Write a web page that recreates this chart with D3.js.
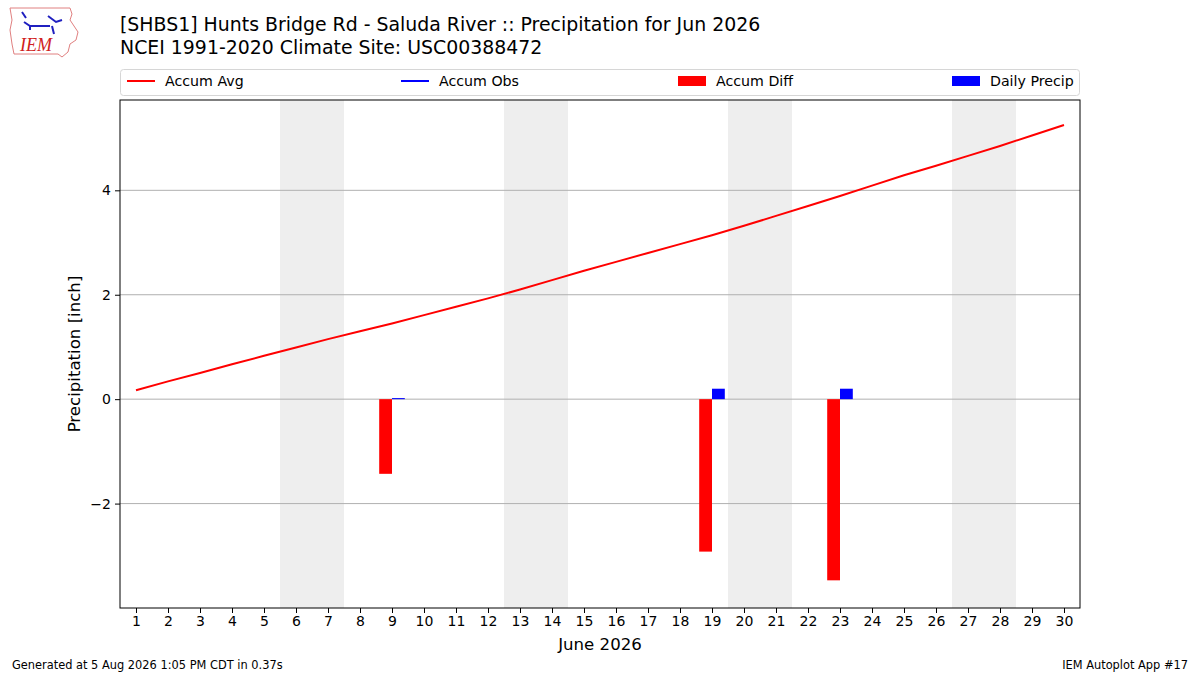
<!DOCTYPE html>
<html>
<head>
<meta charset="utf-8">
<script src="https://cdn.jsdelivr.net/npm/d3@7"></script>
<style>
    body { margin: 0; background: #fff; }
    svg { font-family: "DejaVu Sans", sans-serif; }
</style>
</head>
<body>
<div id="chart"></div>
<script>
// Days of June 2026
const days = d3.range(1, 31);
// Accumulated climatological average precip (inch)
const accumAvg = [0.17, 0.34, 0.50, 0.67, 0.83, 0.99, 1.15, 1.30, 1.45, 1.61,
    1.77, 1.93, 2.10, 2.28, 2.46, 2.63, 2.80, 2.97, 3.14, 3.32,
    3.51, 3.70, 3.89, 4.09, 4.29, 4.47, 4.66, 4.85, 5.05, 5.25];
// Days with observations and their values
const obsDays = [9, 19, 23];
const dailyPrecip = [0.02, 0.20, 0.20];
const accumDiff = [-1.43, -2.92, -3.47];
// Weekend spans (Sat, Sun)
const weekends = [6, 13, 20, 27];
const yTicks = [-2, 0, 2, 4];

const width = 1200, height = 675;
const margin = {left: 120, right: 120, top: 100, bottom: 67};

const svg = d3.select("#chart").append("svg")
    .attr("width", width)
    .attr("height", height);

const x = d3.scaleLinear()
    .domain([0.5, 30.5])
    .range([margin.left, width - margin.right]);
const y = d3.scaleLinear()
    .domain([-4.0, 5.73])
    .range([height - margin.bottom, margin.top]);

// Weekend shading
svg.append("g").selectAll("rect")
    .data(weekends)
    .join("rect")
    .attr("x", d => x(d - 0.5))
    .attr("width", d => x(d + 1.5) - x(d - 0.5))
    .attr("y", margin.top)
    .attr("height", y.range()[0] - margin.top)
    .attr("fill", "#eeeeee");

// Grid lines
svg.append("g").selectAll("line")
    .data(yTicks)
    .join("line")
    .attr("x1", x.range()[0])
    .attr("x2", x.range()[1])
    .attr("y1", d => y(d))
    .attr("y2", d => y(d))
    .attr("stroke", "#b0b0b0")
    .attr("stroke-width", 1);

// Accum diff bars (left of day)
svg.append("g").selectAll("rect")
    .data(obsDays.map((d, i) => ({day: d, v: accumDiff[i]})))
    .join("rect")
    .attr("x", d => x(d.day - 0.4))
    .attr("width", d => x(d.day) - x(d.day - 0.4))
    .attr("y", d => y(Math.max(0, d.v)))
    .attr("height", d => Math.abs(y(d.v) - y(0)))
    .attr("fill", "#ff0000");

// Daily precip bars (right of day)
svg.append("g").selectAll("rect")
    .data(obsDays.map((d, i) => ({day: d, v: dailyPrecip[i]})))
    .join("rect")
    .attr("x", d => x(d.day))
    .attr("width", d => x(d.day + 0.4) - x(d.day))
    .attr("y", d => y(d.v))
    .attr("height", d => Math.max(1, y(0) - y(d.v)))
    .attr("fill", "#0000ff");

// Accum avg line
const line = d3.line()
    .x((d, i) => x(days[i]))
    .y(d => y(d));
svg.append("path")
    .datum(accumAvg)
    .attr("d", line)
    .attr("fill", "none")
    .attr("stroke", "#ff0000")
    .attr("stroke-width", 2);

// Frame
svg.append("rect")
    .attr("x", x.range()[0])
    .attr("y", margin.top)
    .attr("width", x.range()[1] - x.range()[0])
    .attr("height", y.range()[0] - margin.top)
    .attr("fill", "none")
    .attr("stroke", "#000")
    .attr("stroke-width", 1);

// Axes
const xAxis = svg.append("g")
    .attr("transform", `translate(0,${y.range()[0]})`)
    .call(d3.axisBottom(x).tickValues(days).tickSize(5).tickPadding(3).tickFormat(d3.format("d")));
const yAxis = svg.append("g")
    .attr("transform", `translate(${x.range()[0]},0)`)
    .call(d3.axisLeft(y).tickValues(yTicks).tickSize(5).tickPadding(4)
        .tickFormat(d => d < 0 ? "\u2212" + Math.abs(d) : d));
for (const ax of [xAxis, yAxis]) {
    ax.select(".domain").remove();
    ax.selectAll("text")
        .attr("font-size", 14)
        .attr("font-family", "DejaVu Sans")
        .attr("fill", "#000");
}

svg.append("text")
    .attr("x", (x.range()[0] + x.range()[1]) / 2)
    .attr("y", 650)
    .attr("text-anchor", "middle")
    .attr("font-size", 16.6)
    .text("June 2026");
svg.append("text")
    .attr("transform", `translate(80,${(margin.top + y.range()[0]) / 2}) rotate(-90)`)
    .attr("text-anchor", "middle")
    .attr("font-size", 16.6)
    .text("Precipitation [inch]");

// Titles
svg.append("text")
    .attr("x", 120).attr("y", 31)
    .attr("font-size", 18.9)
    .text("[SHBS1] Hunts Bridge Rd - Saluda River :: Precipitation for Jun 2026");
svg.append("text")
    .attr("x", 120).attr("y", 54)
    .attr("font-size", 18.9)
    .text("NCEI 1991-2020 Climate Site: USC00388472");

// Legend
const legend = svg.append("g");
legend.append("rect")
    .attr("x", 120.5).attr("y", 69.5)
    .attr("width", 959).attr("height", 26)
    .attr("rx", 3)
    .attr("fill", "#fff")
    .attr("stroke", "#d6d6d6");
const legendItems = [
    {label: "Accum Avg", kind: "line", color: "#ff0000", x: 127},
    {label: "Accum Obs", kind: "line", color: "#0000ff", x: 401},
    {label: "Accum Diff", kind: "patch", color: "#ff0000", x: 678},
    {label: "Daily Precip", kind: "patch", color: "#0000ff", x: 952}
];
for (const item of legendItems) {
    if (item.kind === "line") {
        legend.append("line")
            .attr("x1", item.x).attr("x2", item.x + 28)
            .attr("y1", 81).attr("y2", 81)
            .attr("stroke", item.color)
            .attr("stroke-width", 2);
    } else {
        legend.append("rect")
            .attr("x", item.x).attr("y", 76)
            .attr("width", 28).attr("height", 10)
            .attr("fill", item.color);
    }
    legend.append("text")
        .attr("x", item.x + 38).attr("y", 86)
        .attr("font-size", 14.2)
        .text(item.label);
}

// Footer
svg.append("text")
    .attr("x", 12).attr("y", 669)
    .attr("font-size", 11.4)
    .text("Generated at 5 Aug 2026 1:05 PM CDT in 0.37s");
svg.append("text")
    .attr("x", 1188).attr("y", 669)
    .attr("text-anchor", "end")
    .attr("font-size", 11.4)
    .text("IEM Autoplot App #17");

// IEM logo (rough state outline)
const logo = svg.append("g");
logo.append("path")
    .attr("d", "M10,8 L70,8 L72,14 L70,20 L74,26 L78,32 L76,40 L70,44 L68,52 L62,57 L58,54 L14,54 L12,44 L10,30 L12,20 Z")
    .attr("fill", "#fff")
    .attr("stroke", "#e08080")
    .attr("stroke-width", 1);
logo.append("path")
    .attr("d", "M22,12 L26,18 M24,22 L30,26 L50,26 M48,16 L56,22 L62,20 M52,26 L54,34 M30,26 L30,30")
    .attr("fill", "none")
    .attr("stroke", "#2020c0")
    .attr("stroke-width", 2);
logo.append("text")
    .attr("x", 20).attr("y", 51)
    .attr("font-family", "Liberation Serif")
    .attr("font-style", "italic")
    .attr("font-size", 18)
    .attr("fill", "#d02020")
    .text("IEM");
</script>
</body>
</html>
